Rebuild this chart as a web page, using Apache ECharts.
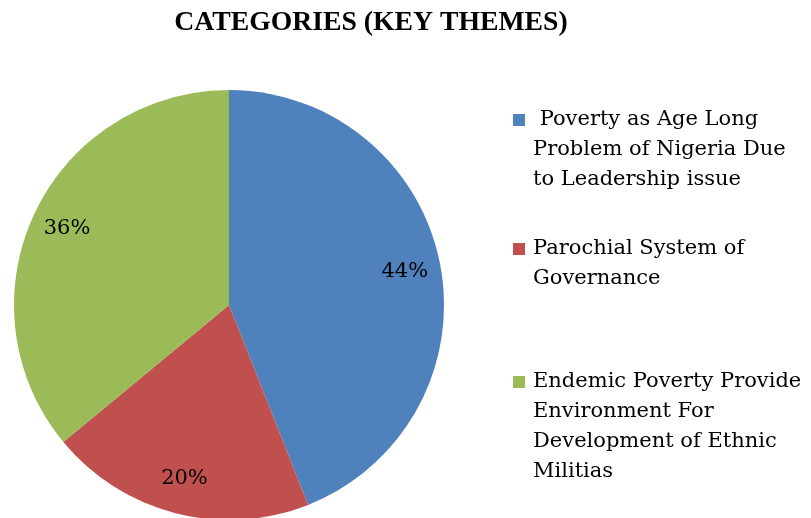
<!DOCTYPE html>
<html>
<head>
<meta charset="utf-8">
<script src="https://cdn.jsdelivr.net/npm/echarts@6/dist/echarts.min.js"></script>
<style>html,body{margin:0;padding:0;background:#fff;}#c{width:811px;height:518px;}</style>
</head>
<body>
<div id="c"></div>
<script>
const title = 'CATEGORIES (KEY THEMES)';
const categories = [
  'Poverty as Age Long Problem of Nigeria Due to Leadership issue',
  'Parochial System of Governance',
  'Endemic Poverty Provide Environment For Development of Ethnic Militias'
];
const legendLines = [
  [' Poverty as Age Long', 'Problem of Nigeria Due', 'to Leadership issue'],
  ['Parochial System of', 'Governance'],
  ['Endemic Poverty Provide', 'Environment For', 'Development of Ethnic', 'Militias']
];
const values = [44, 20, 36];
const colors = ['#4F81BD', '#C0504D', '#9BBB59'];
const legendTops = [45, 204, 277];

const chart = echarts.init(document.getElementById('c'), null, {renderer: 'canvas'});
const data = categories.map((n, i) => ({name: n, value: values[i], itemStyle: {color: colors[i]}}));
const legendFont = 'DejaVu Serif';
const legends = categories.map((n, i) => ({
  data: [n],
  left: 513,
  top: legendTops[i],
  padding: 0,
  orient: 'vertical',
  icon: 'rect',
  itemWidth: 12,
  itemHeight: 12,
  itemGap: 0,
  selectedMode: false,
  formatter: () => '\n'.repeat(legendLines[i].length - 1) + legendLines[i].join('\n'),
  textStyle: {fontFamily: legendFont, fontSize: 21, lineHeight: 30, color: '#000', padding: [0, 0, 0, 3]}
}));

chart.setOption({
  animation: false,
  backgroundColor: '#fff',
  color: colors,
  title: {
    text: title,
    left: 371,
    textAlign: 'center',
    top: 9,
    padding: 0,
    textStyle: {fontFamily: 'Liberation Serif', fontWeight: 'bold', fontSize: 27.7, color: '#000'}
  },
  legend: legends,
  series: [
    {
      type: 'pie',
      center: [229, 305],
      radius: [0, 215],
      startAngle: 90,
      clockwise: true,
      label: {show: false},
      labelLine: {show: false},
      silent: true,
      data: data
    },
    {
      type: 'pie',
      center: [229, 305],
      radius: [137, 215],
      startAngle: 90,
      clockwise: true,
      silent: true,
      legendHoverLink: false,
      itemStyle: {color: 'rgba(0,0,0,0)', borderWidth: 0},
      label: {
        show: true,
        position: 'inside',
        formatter: p => p.value + '%',
        fontFamily: legendFont,
        fontSize: 21,
        color: '#000'
      },
      labelLine: {show: false},
      data: categories.map((n, i) => ({name: n + ' ', value: values[i]}))
    }
  ]
});
</script>
</body>
</html>
